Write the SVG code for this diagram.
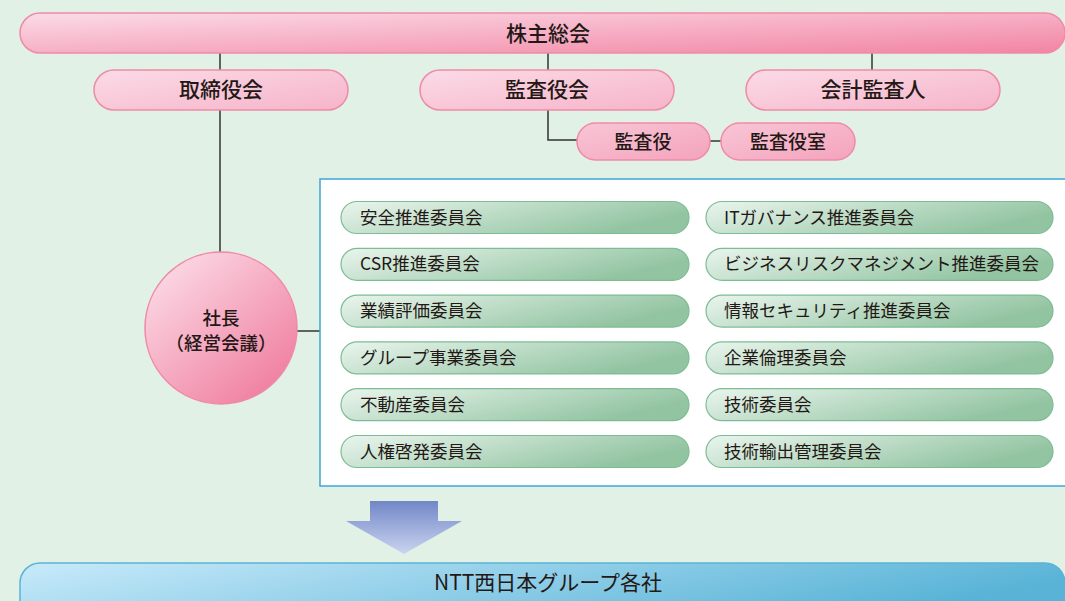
<svg xmlns="http://www.w3.org/2000/svg" width="1065" height="601" viewBox="0 0 1065 601">
<defs>
<linearGradient id="gTop" x1="0" y1="0" x2="1" y2="1" gradientUnits="objectBoundingBox">
<stop offset="0" stop-color="#fbdce8"/><stop offset="1" stop-color="#f284a3"/>
</linearGradient>
<linearGradient id="gPink" x1="0" y1="0" x2="1" y2="1">
<stop offset="0" stop-color="#fbdbe7"/><stop offset="1" stop-color="#f6b4c9"/>
</linearGradient>
<linearGradient id="gPink2" x1="0" y1="0" x2="1" y2="1">
<stop offset="0" stop-color="#f8c6d6"/><stop offset="1" stop-color="#f4a3bd"/>
</linearGradient>
<linearGradient id="gCircle" x1="0.15" y1="0.1" x2="0.85" y2="0.9">
<stop offset="0" stop-color="#fbd6e3"/><stop offset="1" stop-color="#f080a1"/>
</linearGradient>
<linearGradient id="gGreen" x1="0" y1="0" x2="1" y2="0.4">
<stop offset="0" stop-color="#eaf5ee"/><stop offset="1" stop-color="#92c4a1"/>
</linearGradient>
<linearGradient id="gBlue" x1="0" y1="0" x2="1" y2="0.3">
<stop offset="0" stop-color="#c8eafa"/><stop offset="1" stop-color="#58b3d6"/>
</linearGradient>
<linearGradient id="gArrow" x1="0" y1="0" x2="0" y2="1">
<stop offset="0" stop-color="#7186c7"/><stop offset="1" stop-color="#cbd5f0"/>
</linearGradient>
<style>
.t{font-family:"Noto Sans CJK JP","Liberation Sans",sans-serif;fill:#231815;}
.h{font-size:21px;font-weight:500;text-anchor:middle;}
.s{font-size:19px;font-weight:500;text-anchor:middle;}
.g{font-size:17.5px;}
.pk{stroke:#ef8aa8;stroke-width:1.5;}
.gr{fill:url(#gGreen);stroke:#7dbd94;stroke-width:1.2;}
.ln{stroke:#333;stroke-width:1.5;fill:none;}
</style>
</defs>
<rect width="1065" height="601" fill="#e1f1e5"/>

<g id="connectors">
<line class="ln" x1="220" y1="53" x2="220" y2="252"/>
<polyline class="ln" points="548,53 548,70"/>
<polyline class="ln" points="548,110 548,140 577,140"/>
<line class="ln" x1="710" y1="141" x2="721" y2="141"/>
<line class="ln" x1="872" y1="53" x2="872" y2="70"/>
<line class="ln" x1="297" y1="331" x2="320" y2="331"/>
</g>

<g id="shareholders">
<rect class="pk" x="20" y="13" width="1045" height="40" rx="20" fill="url(#gTop)"/>
<text class="t h" x="548" y="41">株主総会</text>
</g>

<g id="board">
<rect class="pk" x="94" y="70" width="254" height="40" rx="20" fill="url(#gPink)"/>
<text class="t h" x="221" y="97">取締役会</text>
</g>
<g id="audit-board">
<rect class="pk" x="420" y="70" width="254" height="40" rx="20" fill="url(#gPink)"/>
<text class="t h" x="547" y="97">監査役会</text>
</g>
<g id="auditor">
<rect class="pk" x="746" y="70" width="254" height="40" rx="20" fill="url(#gPink)"/>
<text class="t h" x="873" y="97">会計監査人</text>
</g>
<g id="kansayaku">
<rect class="pk" x="577" y="123" width="133" height="37" rx="18.5" fill="url(#gPink2)"/>
<text class="t s" x="643" y="148.5">監査役</text>
</g>
<g id="kansayaku-shitsu">
<rect class="pk" x="721" y="123" width="134" height="37" rx="18.5" fill="url(#gPink2)"/>
<text class="t s" x="788" y="148.5">監査役室</text>
</g>

<g id="president">
<circle class="pk" cx="221" cy="328" r="76" fill="url(#gCircle)"/>
<text class="t" x="221" y="325" font-size="18.5" font-weight="500" text-anchor="middle">社長</text>
<text class="t" x="221" y="350" font-size="18.5" font-weight="500" text-anchor="middle">（経営会議）</text>
</g>

<g id="committees">
<rect x="320" y="179" width="760" height="307" fill="#fff" stroke="#3aa8d8" stroke-width="1.5"/>
<g id="c-left">
<rect class="gr" x="341" y="201.5" width="348" height="32" rx="16"/>
<text class="t g" x="360" y="223.5">安全推進委員会</text>
<rect class="gr" x="341" y="248.3" width="348" height="32" rx="16"/>
<text class="t g" x="360" y="270.3">CSR推進委員会</text>
<rect class="gr" x="341" y="295.1" width="348" height="32" rx="16"/>
<text class="t g" x="360" y="317.1">業績評価委員会</text>
<rect class="gr" x="341" y="341.9" width="348" height="32" rx="16"/>
<text class="t g" x="360" y="363.9">グループ事業委員会</text>
<rect class="gr" x="341" y="388.7" width="348" height="32" rx="16"/>
<text class="t g" x="360" y="410.7">不動産委員会</text>
<rect class="gr" x="341" y="435.5" width="348" height="32" rx="16"/>
<text class="t g" x="360" y="457.5">人権啓発委員会</text>
</g>
<g id="c-right">
<rect class="gr" x="706" y="201.5" width="347" height="32" rx="16"/>
<text class="t g" x="724" y="223.5">ITガバナンス推進委員会</text>
<rect class="gr" x="706" y="248.3" width="347" height="32" rx="16"/>
<text class="t g" x="724" y="270.3">ビジネスリスクマネジメント推進委員会</text>
<rect class="gr" x="706" y="295.1" width="347" height="32" rx="16"/>
<text class="t g" x="724" y="317.1">情報セキュリティ推進委員会</text>
<rect class="gr" x="706" y="341.9" width="347" height="32" rx="16"/>
<text class="t g" x="724" y="363.9">企業倫理委員会</text>
<rect class="gr" x="706" y="388.7" width="347" height="32" rx="16"/>
<text class="t g" x="724" y="410.7">技術委員会</text>
<rect class="gr" x="706" y="435.5" width="347" height="32" rx="16"/>
<text class="t g" x="724" y="457.5">技術輸出管理委員会</text>
</g>
</g>

<g id="arrow">
<polygon points="370,501 438,501 438,521 462,521 404,554 346,521 370,521" fill="url(#gArrow)"/>
</g>

<g id="group-companies">
<rect x="20" y="563" width="1045" height="60" rx="20" fill="url(#gBlue)" stroke="#5ab4d6" stroke-width="1.5"/>
<text class="t" x="548" y="590" font-size="21" text-anchor="middle">NTT西日本グループ各社</text>
</g>
</svg>
